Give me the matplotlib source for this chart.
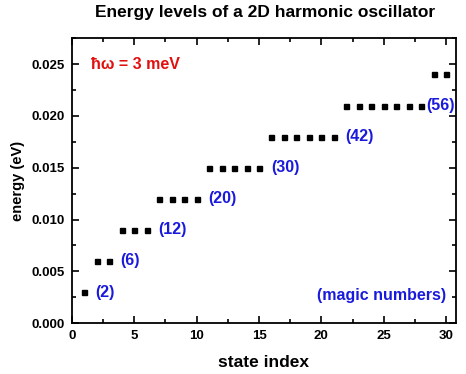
import matplotlib
matplotlib.use("Agg")
import matplotlib.pyplot as plt
from matplotlib.ticker import MultipleLocator, FormatStrFormatter

plt.rcParams['font.family'] = ['Liberation Sans', 'DejaVu Sans']
plt.rcParams['font.weight'] = 'bold'

# --- Data: energy levels of a 2D harmonic oscillator (hbar*omega = 3 meV) ---
state_index = list(range(1, 31))
energy = [0.003,
          0.006, 0.006,
          0.009, 0.009, 0.009,
          0.012, 0.012, 0.012, 0.012,
          0.015, 0.015, 0.015, 0.015, 0.015,
          0.018, 0.018, 0.018, 0.018, 0.018, 0.018,
          0.021, 0.021, 0.021, 0.021, 0.021, 0.021, 0.021,
          0.024, 0.024]
magic_labels = ["(2)", "(6)", "(12)", "(20)", "(30)", "(42)", "(56)"]
magic_x = [1.85, 3.9, 6.9, 10.9, 15.95, 21.9, 28.4]
magic_y = [0.003, 0.006, 0.009, 0.012, 0.015, 0.018, 0.021]

blue = '#1a1adc'
red = '#e01010'

fig = plt.figure(figsize=(4.66, 3.74), dpi=100)
ax = fig.add_axes([0.1545, 0.136, 0.824, 0.762])

ax.plot(state_index, energy, 's', color='black', markersize=3.6, linestyle='none')

for lab, x, y in zip(magic_labels, magic_x, magic_y):
    ax.text(x, y, lab, color=blue, fontsize=11.5, fontweight='bold',
            va='center', ha='left')

ax.text(0.05, 0.909, "ħω = 3 meV", transform=ax.transAxes, color=red,
        fontsize=11.5, fontweight='bold', va='center', ha='left')
ax.text(0.974, 0.098, "(magic numbers)", transform=ax.transAxes, color=blue,
        fontsize=11.5, fontweight='bold', va='center', ha='right')

ax.set_xlim(0, 30.8)
ax.set_ylim(0, 0.0275)
ax.xaxis.set_major_locator(MultipleLocator(5))
ax.xaxis.set_minor_locator(MultipleLocator(2.5))
ax.yaxis.set_major_locator(MultipleLocator(0.005))
ax.yaxis.set_minor_locator(MultipleLocator(0.0025))
ax.yaxis.set_major_formatter(FormatStrFormatter('%.3f'))

ax.tick_params(which='both', direction='in', top=True, right=True, width=1.2,
               labelsize=9.5, pad=5)
ax.tick_params(which='major', length=5)
ax.tick_params(which='minor', length=3)
for s in ax.spines.values():
    s.set_linewidth(1.3)

ax.set_xlabel("state index", fontsize=12.5, fontweight='bold', labelpad=9)
ax.set_ylabel("energy (eV)", fontsize=10.5, fontweight='bold', labelpad=5)
fig.suptitle("Energy levels of a 2D harmonic oscillator", fontsize=12.5,
             fontweight='bold', x=0.568, y=0.987)

fig.savefig("out.png", dpi=100)
